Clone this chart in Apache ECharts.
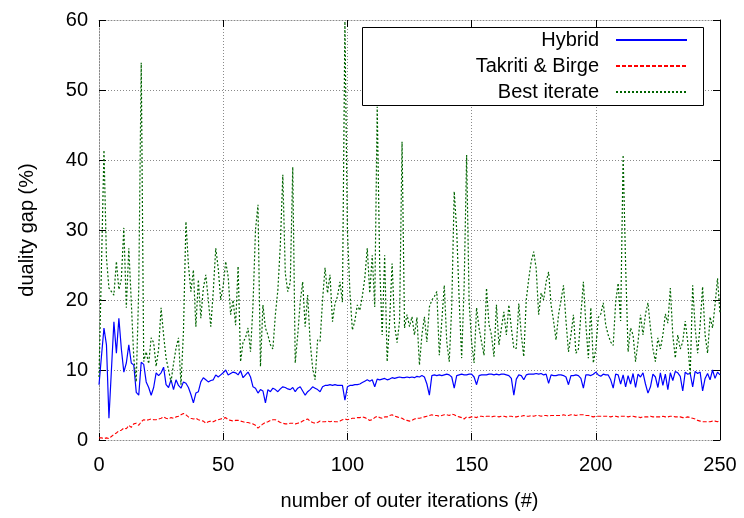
<!DOCTYPE html>
<html>
<head>
<meta charset="utf-8">
<script src="https://cdn.jsdelivr.net/npm/echarts@6/dist/echarts.min.js"></script>
<style>
  html, body { margin: 0; padding: 0; background: #fff; }
  #chart { width: 744px; height: 518px; }
</style>
</head>
<body>
<div id="chart"></div>
<script>
// series names as in the key
const seriesNames = ['Hybrid', 'Takriti & Birge', 'Best iterate']

// one value per outer iteration, 0..250
const hybrid = [
  7.9, 12, 16, 13.6, 3.1, 10, 16.9, 12.4, 17.4, 13,
  9.7, 11, 13.6, 11, 10.7, 6.8, 6.4, 11.1, 10.8, 8.3,
  7.5, 6.4, 7.5, 9.6, 9.2, 9.6, 10.4, 7.9, 7.5, 8.6,
  7.2, 8.6, 7.8, 7.4, 8.3, 8.1, 7.5, 6.5, 5.3, 6.7,
  6.9, 8.3, 8.9, 8.6, 8.3, 8.5, 8.6, 9.3, 9.0, 9.3,
  9.6, 10.0, 9.3, 9.5, 9.7, 9.6, 9.3, 9.9, 8.9, 9.3,
  9.7, 9.0, 7.6, 7.4, 6.7, 7.2, 7.0, 5.3, 7.2, 6.9,
  7.4, 7.2, 6.9, 7.3, 7.6, 7.5, 7.3, 7.2, 7.5, 6.9,
  7.4, 7.6, 7.0, 6.4, 6.9, 7.2, 7.6, 7.4, 7.2, 6.9,
  7.6, 7.8, 7.8, 7.9, 7.8, 7.9, 7.8, 7.8, 7.8, 5.7,
  7.6, 7.8, 7.8, 7.9, 7.9, 8.0, 8.2, 8.4, 8.6, 8.4,
  8.6, 7.6, 8.7, 8.6, 8.7, 8.8, 8.6, 8.7, 8.9, 8.8,
  8.9, 9.0, 8.9, 8.9, 9.0, 8.9, 9.0, 8.9, 9.1, 9.0,
  9.2, 9.0, 8.0, 6.4, 9.2, 9.3, 9.2, 9.3, 9.2, 9.3,
  9.4, 9.3, 9.0, 7.4, 9.2, 9.3, 9.4, 9.3, 9.3, 9.4,
  9.4, 9.0, 7.9, 9.2, 9.3, 9.3, 9.3, 9.4, 9.4, 9.3,
  9.4, 9.3, 9.4, 9.4, 9.3, 9.2, 8.8, 6.4, 8.7, 9.3,
  9.2, 8.6, 9.3, 9.4, 9.4, 9.4, 9.5, 9.4, 9.5, 9.3,
  9.4, 8.1, 9.3, 9.2, 9.2, 9.3, 9.3, 9.2, 9.0, 7.9,
  9.2, 9.2, 9.3, 9.2, 8.8, 7.4, 9.3, 9.3, 9.2, 9.4,
  9.7, 9.3, 9.1, 9.4, 9.3, 9.3, 8.6, 7.4, 9.4, 9.3,
  8.0, 9.3, 7.6, 9.2, 8.0, 9.5, 7.5, 9.4, 9.0, 9.6,
  8.0, 6.7, 7.6, 9.4, 9.0, 7.5, 9.6, 7.8, 9.4, 7.2,
  9.6, 8.5, 9.8, 9.6, 9.1, 7.0, 9.7, 9.4, 9.5, 7.6,
  9.8, 9.5, 9.7, 7.0, 8.8, 9.5, 8.6, 10.0, 8.8, 9.7,
  9.3
]

const takriti = [
  0.3, 0.3, 0.2, 0.3, 0.2, 0.5, 0.8, 1.0, 1.3, 1.4,
  1.7, 1.6, 2.1, 1.8, 2.3, 2.4, 2.1, 2.6, 2.9, 2.8,
  2.9, 3.0, 2.9, 2.9, 3.0, 3.1, 3.3, 3.1, 3.0, 3.2,
  3.1, 3.3, 3.4, 3.6, 3.8, 3.6, 3.3, 3.1, 3.0, 3.1,
  2.9, 2.8, 2.7, 2.4, 2.6, 2.7, 2.6, 2.8, 2.9, 3.0,
  3.1, 3.2, 2.9, 2.8, 2.7, 2.8, 2.8, 2.7, 2.6, 2.5,
  2.5, 2.4, 2.3, 2.1, 1.7, 2.0, 2.3, 2.5, 2.6, 2.8,
  2.9, 2.9, 2.7, 2.5, 2.4, 2.3, 2.3, 2.4, 2.4, 2.3,
  2.4, 2.5, 2.7, 2.9, 3.0, 2.7, 2.5, 2.4, 2.5, 2.7,
  2.6, 2.6, 2.7, 2.6, 2.7, 2.6, 2.6, 2.7, 2.9, 3.0,
  2.9, 3.0, 3.1, 3.1, 3.2, 3.2, 3.3, 3.2, 3.0, 2.8,
  2.9, 3.2, 3.4, 3.2, 3.1, 3.3, 3.3, 3.5, 3.6, 3.4,
  3.3, 3.2, 3.1, 2.9, 2.8, 2.7, 2.8, 3.0, 3.1, 3.1,
  3.2, 3.3, 3.4, 3.5, 3.6, 3.5, 3.5, 3.4, 3.5, 3.6,
  3.6, 3.5, 3.7, 3.6, 3.4, 3.3, 3.2, 3.0, 3.3, 3.2,
  3.3, 3.3, 3.2, 3.4, 3.4, 3.3, 3.4, 3.4, 3.3, 3.4,
  3.4, 3.3, 3.4, 3.4, 3.3, 3.4, 3.4, 3.3, 3.3, 3.4,
  3.4, 3.5, 3.4, 3.4, 3.5, 3.4, 3.5, 3.5, 3.4, 3.5,
  3.5, 3.4, 3.5, 3.5, 3.5, 3.5, 3.5, 3.6, 3.5, 3.5,
  3.6, 3.6, 3.5, 3.6, 3.6, 3.6, 3.5, 3.5, 3.4, 3.3,
  3.4, 3.4, 3.4, 3.4, 3.4, 3.4, 3.3, 3.4, 3.4, 3.3,
  3.4, 3.4, 3.4, 3.3, 3.4, 3.4, 3.3, 3.3, 3.2, 3.3,
  3.3, 3.3, 3.4, 3.3, 3.3, 3.3, 3.3, 3.4, 3.3, 3.3,
  3.4, 3.4, 3.3, 3.3, 3.3, 3.2, 3.2, 3.3, 3.2, 3.1,
  3.0, 2.8, 2.7, 2.6, 2.6, 2.6, 2.6, 2.7, 2.7, 2.6,
  2.8
]

const bestIterate = [
  9, 25, 41.4, 26, 21.7, 21.2, 20.7, 25.5, 21.5, 23,
  30.3, 18.9, 27.4, 19.7, 11.7, 8.3, 21.7, 53.9, 11.2, 12.6,
  10.9, 14.6, 13.9, 10.5, 13, 18.9, 15, 11.7, 10, 8.3,
  10.9, 13.1, 14.6, 7.9, 15.5, 31.2, 25, 21.2, 24.3, 16.2,
  22.9, 17.4, 21.7, 23.6, 20, 16.2, 21.2, 27.4, 24.5, 20,
  22, 25.5, 23.3, 17.9, 20, 16.4, 24.8, 11.2, 14, 14.6,
  16, 12.6, 19.3, 30, 33.6, 10.5, 19.3, 16, 15, 13.6,
  13, 17.9, 21.4, 27.9, 37.9, 23.8, 21.2, 22.5, 39, 11,
  15, 19.7, 22.6, 16.2, 20.7, 14, 10.3, 8.6, 14.3, 14.1,
  20, 24.6, 21, 23.6, 16.9, 19.5, 20.5, 22.6, 19.7, 59.8,
  30, 21.2, 15.7, 17, 19.3, 18.5, 20.5, 23.1, 27.4, 21,
  26.4, 19, 47.6, 25, 15, 26.4, 11.2, 17, 25.2, 16.4,
  13.9, 17, 42.6, 16, 17.9, 16.2, 17.6, 15, 17.5, 10.7,
  15, 17.6, 14, 19, 20, 20.5, 21.2, 12.1, 17, 22.1,
  14, 11.2, 19, 35.5, 30, 20, 11.7, 22, 40.7, 19.7,
  14, 11, 18.9, 16, 14, 12.1, 21.7, 16.5, 15, 11.9,
  19.3, 13.6, 16, 18.3, 15, 19.3, 16, 13.1, 13.1, 19.5,
  15, 11.9, 20, 23, 25.5, 26.9, 24.5, 17.9, 21, 20,
  22.6, 24, 19.3, 17, 14.3, 17.9, 20, 22.1, 17, 12.6,
  15, 17.9, 12.4, 13, 18, 22.6, 16.5, 11.7, 18.9, 11,
  13, 17.5, 18, 19.6, 16.4, 15, 14, 13.5, 19.7, 22.4,
  17, 40.7, 25, 12.6, 16, 15, 11.2, 14, 17.9, 15,
  18, 19.6, 16, 13, 11.2, 14.6, 13, 15, 18, 16.7,
  21.7, 15, 11.7, 15, 13, 14, 17, 14, 9.3, 22.1,
  16, 12.4, 16.4, 21.9, 15, 12.4, 17.6, 16, 19.3, 23.1,
  18
]

const xTicks = { min: 0, max: 250, interval: 50 }
const yTicks = { min: 0, max: 60, interval: 10 }

function pairs(values) {
  return values.map((v, i) => [i, v])
}

const font = 'Liberation Sans, Arial, Helvetica, sans-serif'
const dotted = { color: '#8a8a8a', type: [1, 2], width: 1 }
const gridLine = { show: true, lineStyle: dotted }
// the grid overdraws the frame on three sides, only the right edge stays solid
const frameDotted = { show: true, onZero: false, lineStyle: dotted }
const frameSolid = { show: true, onZero: false, lineStyle: { color: '#000', width: 1 } }
const tickIn = { show: true, inside: true, length: 7, lineStyle: { color: '#000' } }

let chart = echarts.init(document.getElementById('chart'), null, { renderer: 'canvas' })
chart.setOption({
  animation: false,
  backgroundColor: '#fff',
  textStyle: { fontFamily: font, color: '#000' },
  grid: { left: 99, right: 24, top: 20, bottom: 78, containLabel: false },
  xAxis: [
    {
      type: 'value', ...xTicks,
      position: 'bottom',
      name: 'number of outer iterations (#)',
      nameLocation: 'middle', nameGap: 51,
      nameTextStyle: { fontSize: 20, fontFamily: font, color: '#000' },
      axisLine: frameDotted, axisTick: tickIn,
      axisLabel: { fontSize: 20, fontFamily: font, color: '#000', margin: 15 },
      splitLine: gridLine
    },
    {
      type: 'value', ...xTicks,
      position: 'top',
      axisLine: frameDotted, axisTick: tickIn,
      axisLabel: { show: false }, splitLine: { show: false }
    }
  ],
  yAxis: [
    {
      type: 'value', ...yTicks,
      position: 'left',
      name: 'duality gap (%)',
      nameLocation: 'middle', nameGap: 62, nameRotate: 90,
      nameTextStyle: { fontSize: 20, fontFamily: font, color: '#000' },
      axisLine: frameDotted, axisTick: tickIn,
      axisLabel: { fontSize: 20, fontFamily: font, color: '#000', margin: 11 },
      splitLine: gridLine
    },
    {
      type: 'value', ...yTicks,
      position: 'right',
      axisLine: frameSolid, axisTick: tickIn,
      axisLabel: { show: false }, splitLine: { show: false }
    }
  ],
  // opaque key box, as in the original
  graphic: [{
    type: 'rect', z: 3,
    shape: { x: 362.5, y: 27.5, width: 341, height: 78 },
    style: { fill: '#fff', stroke: '#000', lineWidth: 1 }
  }],
  legend: {
    z: 5,
    data: seriesNames,
    orient: 'vertical',
    align: 'right',
    right: 56, top: 30,
    padding: 0,
    itemGap: 6,
    itemWidth: 71, itemHeight: 20,
    // just the line sample, no marker
    itemStyle: { opacity: 0 },
    textStyle: { fontSize: 20, fontFamily: font, color: '#000', width: 230, align: 'right', padding: [0, 12, 0, 0], lineHeight: 20 }
  },
  series: [
    {
      name: seriesNames[0], type: 'line', data: pairs(hybrid),
      showSymbol: false, symbol: 'none',
      lineStyle: { color: '#0000ff', width: 1.2 }, itemStyle: { color: '#0000ff' }
    },
    {
      name: seriesNames[1], type: 'line', data: pairs(takriti),
      showSymbol: false, symbol: 'none',
      lineStyle: { color: '#ff0000', width: 1.1, type: [4, 2] }, itemStyle: { color: '#ff0000' }
    },
    {
      name: seriesNames[2], type: 'line', data: pairs(bestIterate),
      showSymbol: false, symbol: 'none',
      lineStyle: { color: '#006400', width: 1.2, type: [2, 2] }, itemStyle: { color: '#006400' }
    }
  ]
})
</script>
</body>
</html>
